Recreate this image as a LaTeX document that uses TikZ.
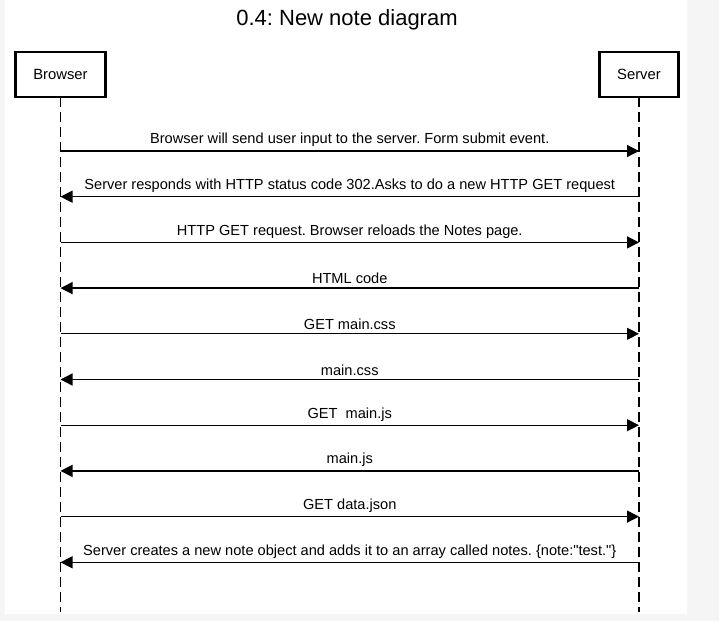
\documentclass[tikz,border=0pt]{standalone}
\usepackage{fontspec}
\setmainfont{Liberation Sans}[Ligatures=TeXOff]
\usepackage{tikz}
\usetikzlibrary{positioning,arrows.meta,calc}

\begin{document}
\frenchspacing
\begin{tikzpicture}[
    x=1pt, y=1pt,
    actor/.style={rectangle, draw, line width=2.5pt, outer sep=0pt, minimum height=45pt, align=center, font=\fontsize{14.8}{17}\selectfont},
    lifeline/.style={line width=1.3pt, dash pattern=on 10pt off 5pt},
    arrow/.style={-{Triangle[length=12pt, width=12pt]}, line width=1.3pt},
    msg/.style={font=\fontsize{14.6}{17}\selectfont, above=0pt}
]

% Page background
\fill[black!4] (0,0) rectangle (719,-621);
\fill[white] (5,0) rectangle (687,-614);
\useasboundingbox (0,0) rectangle (719,-621);

% Title
\node[font=\fontsize{22}{26}\selectfont] (title) at (347,-19.5) {0.4: New note diagram};

% Actors
\node[actor, minimum width=90pt] (browser) at (60.5,-74.5) {Browser};
\node[actor, minimum width=79pt, right=494pt of browser] (server) {Server};

% Vertical lifelines
\coordinate (b_end) at ($(browser.south) + (0,-515)$);
\coordinate (s_end) at ($(server.south) + (0,-515)$);
\draw[lifeline] (browser.south) -- (b_end);
\draw[lifeline] (server.south) -- (s_end);

% Message 1: form submit
\coordinate (b1) at ($(browser.south) + (0,-54)$);
\coordinate (s1) at ($(server.south) + (0,-54)$);
\draw[arrow] (b1) -- (s1) node[midway, msg] {Browser will send user input to the server. Form submit event.};

% Message 2: redirect
\coordinate (b2) at ($(b1) + (0,-45.7)$);
\coordinate (s2) at ($(s1) + (0,-45.7)$);
\draw[arrow] (s2) -- (b2) node[midway, msg] {Server responds with HTTP status code 302.Asks to do a new HTTP GET request};

% Message 3: reload notes page
\coordinate (b3) at ($(b2) + (0,-45.7)$);
\coordinate (s3) at ($(s2) + (0,-45.7)$);
\draw[arrow] (b3) -- (s3) node[midway, msg] {HTTP GET request. Browser reloads the Notes page.};

% Message 4: html
\coordinate (b4) at ($(b3) + (0,-45.7)$);
\coordinate (s4) at ($(s3) + (0,-45.7)$);
\draw[arrow] (s4) -- (b4) node[midway, msg] {HTML code};

% Message 5: get css
\coordinate (b5) at ($(b4) + (0,-45.7)$);
\coordinate (s5) at ($(s4) + (0,-45.7)$);
\draw[arrow] (b5) -- (s5) node[midway, msg] {GET main.css};

% Message 6: css
\coordinate (b6) at ($(b5) + (0,-45.7)$);
\coordinate (s6) at ($(s5) + (0,-45.7)$);
\draw[arrow] (s6) -- (b6) node[midway, msg] {main.css};

% Message 7: get js
\coordinate (b7) at ($(b6) + (0,-45.7)$);
\coordinate (s7) at ($(s6) + (0,-45.7)$);
\draw[arrow] (b7) -- (s7) node[midway, msg] {GET\ \ main.js};

% Message 8: js
\coordinate (b8) at ($(b7) + (0,-45.7)$);
\coordinate (s8) at ($(s7) + (0,-45.7)$);
\draw[arrow] (s8) -- (b8) node[midway, msg] {main.js};

% Message 9: get json
\coordinate (b9) at ($(b8) + (0,-45.7)$);
\coordinate (s9) at ($(s8) + (0,-45.7)$);
\draw[arrow] (b9) -- (s9) node[midway, msg] {GET data.json};

% Message 10: new note
\coordinate (b10) at ($(b9) + (0,-45.7)$);
\coordinate (s10) at ($(s9) + (0,-45.7)$);
\draw[arrow] (s10) -- (b10) node[midway, msg] {Server creates a new note object and adds it to an array called notes. \{note:"test."\}};

\end{tikzpicture}
\end{document}
